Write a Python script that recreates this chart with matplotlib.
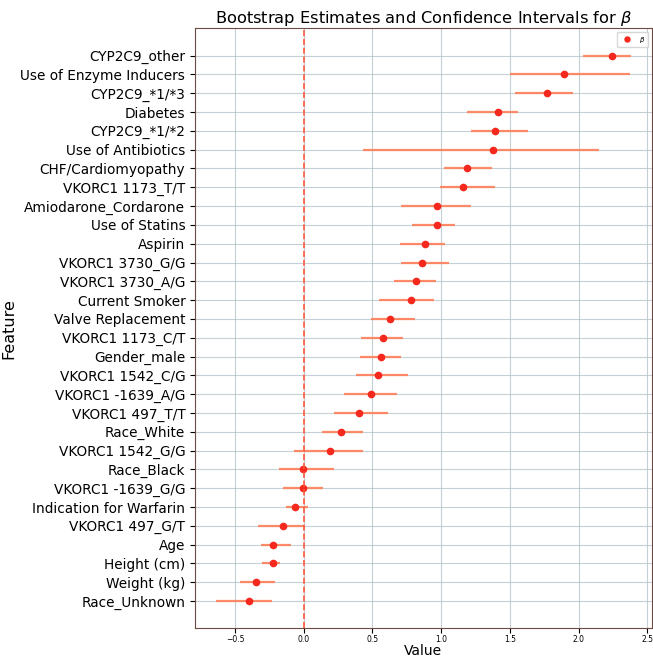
import numpy as np
import matplotlib.pyplot as plt

# features, top to bottom
features = [
    "CYP2C9_other", "Use of Enzyme Inducers", "CYP2C9_*1/*3", "Diabetes",
    "CYP2C9_*1/*2", "Use of Antibiotics", "CHF/Cardiomyopathy", "VKORC1 1173_T/T",
    "Amiodarone_Cordarone", "Use of Statins", "Aspirin", "VKORC1 3730_G/G",
    "VKORC1 3730_A/G", "Current Smoker", "Valve Replacement", "VKORC1 1173_C/T",
    "Gender_male", "VKORC1 1542_C/G", "VKORC1 -1639_A/G", "VKORC1 497_T/T",
    "Race_White", "VKORC1 1542_G/G", "Race_Black", "VKORC1 -1639_G/G",
    "Indication for Warfarin", "VKORC1 497_G/T", "Age", "Height (cm)",
    "Weight (kg)", "Race_Unknown",
]
estimate = [2.24, 1.89, 1.77, 1.41, 1.39, 1.38, 1.19, 1.16, 0.97, 0.97,
            0.88, 0.86, 0.82, 0.78, 0.63, 0.58, 0.56, 0.54, 0.49, 0.40,
            0.27, 0.19, -0.005, -0.005, -0.06, -0.15, -0.22, -0.22, -0.35, -0.40]
ci_low = [2.03, 1.50, 1.54, 1.19, 1.22, 0.43, 1.02, 0.99, 0.71, 0.79,
          0.70, 0.71, 0.66, 0.55, 0.49, 0.42, 0.41, 0.38, 0.29, 0.22,
          0.13, -0.07, -0.18, -0.15, -0.13, -0.33, -0.31, -0.30, -0.46, -0.64]
ci_high = [2.38, 2.37, 1.96, 1.56, 1.63, 2.15, 1.37, 1.39, 1.22, 1.10,
           1.03, 1.06, 0.96, 0.95, 0.81, 0.72, 0.71, 0.76, 0.68, 0.61,
           0.43, 0.43, 0.22, 0.14, 0.03, 0.01, -0.09, -0.17, -0.21, -0.23]

est = np.array(estimate)
lo = np.array(ci_low)
hi = np.array(ci_high)
y = np.arange(len(features))[::-1]

fig, ax = plt.subplots(figsize=(6.53, 6.58), dpi=100)
fig.subplots_adjust(left=0.2986, right=0.998, top=0.957, bottom=0.045)

ax.grid(True, color='#b8c4cc', linewidth=0.8, alpha=0.8)
ax.set_axisbelow(True)

ax.errorbar(est, y, xerr=[est - lo, hi - est], fmt='none',
            ecolor='#ff7f5a', elinewidth=1.6, alpha=0.9)
ax.plot(est, y, 'o', color='#f5281e', markersize=4.5, label=r'$\beta$')
ax.axvline(0, color='#ff5a3c', linestyle='--', linewidth=1.2)

ax.set_yticks(y)
ax.set_yticklabels(features, fontsize=9.8)
ax.tick_params(axis='x', labelsize=5.5, pad=1.5)
ax.set_xlabel('Value', fontsize=10, labelpad=0)
ax.set_ylabel('Feature', fontsize=11.5, labelpad=3)
ax.set_title(r'Bootstrap Estimates and Confidence Intervals for $\beta$', fontsize=11.7, pad=4)

for s in ax.spines.values():
    s.set_color('#6b4a44')

ax.legend(loc='upper right', fontsize=5, markerscale=0.8)

plt.savefig('out.png', dpi=100)
